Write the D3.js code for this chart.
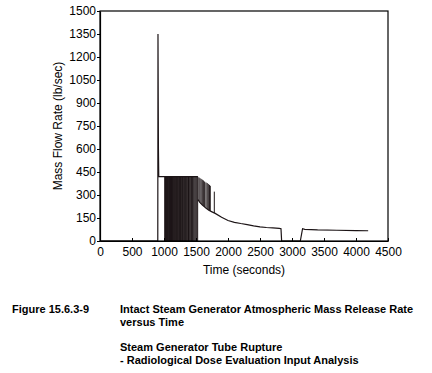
<!DOCTYPE html>
<html>
  <head>
    <meta charset="UTF-8" />
    <style>
      body {
        margin: 0;
        background: #fff;
      }
      svg {
        display: block;
        font-family: "Liberation Sans", Arial, sans-serif;
      }
    </style>
  </head>
  <body>
    <svg></svg>
    <script src="https://d3js.org/d3.v7.min.js"></script>
    <script>
      let width = 432,
        height = 373;

      // axis ticks
      const xTicks = [0, 500, 1000, 1500, 2000, 2500, 3000, 3500, 4000, 4500];
      const yTicks = [0, 150, 300, 450, 600, 750, 900, 1050, 1200, 1350, 1500];

      // main trace: startup spike and flat relief flow
      const startTime = [0, 903, 906, 913, 918, 1530];
      const startFlow = [0, 0, 1350, 600, 420, 420];

      // lower trace after the valve cycling, drop-out and recovery
      const tailTime = [1530, 1560, 1600, 1650, 1700, 1750, 1800, 1900, 2000, 2100, 2200, 2300, 2400, 2500, 2600, 2700, 2800, 2828, 2838, 3130, 3165, 3200, 3400, 3700, 4000, 4190];
      const tailFlow = [270, 252, 235, 216, 200, 190, 180, 155, 134, 122, 114, 107, 99, 92, 88, 85, 82, 80, 0, 0, 80, 76, 72, 70, 68, 67];

      // relief valve cycling: opening times and flow at the top
      const cycleTime = [1012, 1018, 1025, 1031, 1038, 1046, 1053, 1060, 1068, 1076, 1085, 1093, 1101, 1108, 1117, 1126, 1134, 1142, 1151, 1160, 1168, 1177, 1186, 1194, 1204, 1213, 1222, 1231, 1241, 1250, 1259, 1269, 1278, 1288, 1297, 1308, 1318, 1328, 1338, 1349, 1360, 1371, 1383, 1395, 1406, 1418, 1431, 1444, 1457, 1470, 1484, 1498, 1512, 1526, 1545, 1562, 1580, 1598, 1615, 1635, 1656, 1675, 1692, 1710, 1723, 1786];
      const cycleTop = [420, 420, 420, 420, 420, 420, 420, 420, 420, 420, 420, 420, 420, 420, 420, 420, 420, 420, 420, 420, 420, 420, 420, 420, 420, 420, 420, 420, 420, 420, 420, 420, 420, 420, 420, 420, 420, 420, 420, 420, 420, 420, 420, 420, 420, 420, 420, 420, 420, 420, 420, 420, 420, 420, 415, 410, 405, 400, 395, 388, 382, 378, 372, 366, 360, 322];

      const margin = { left: 100, right: 44, top: 11, bottom: 132 };

      let svg = d3
        .select("svg")
        .attr("width", width)
        .attr("height", height);

      svg.append("rect").attr("width", width).attr("height", height).attr("fill", "#fff");

      const x = d3
        .scaleLinear()
        .domain([0, 4500])
        .range([margin.left, width - margin.right]);
      const y = d3
        .scaleLinear()
        .domain([0, 1500])
        .range([height - margin.bottom, margin.top]);

      const lineColor = "#1c1416";

      // base flow under each valve cycle (zero before the lower trace begins)
      const baseOf = d3.scaleLinear().domain(tailTime.slice(0, 17)).range(tailFlow.slice(0, 17)).clamp(true);

      const plot = svg.append("g");

      // valve cycles
      plot
        .selectAll("line.cycle")
        .data(cycleTime)
        .enter()
        .append("line")
        .attr("class", "cycle")
        .attr("x1", (d) => x(d))
        .attr("x2", (d) => x(d))
        .attr("y1", (d) => y(d < 1530 ? 0 : baseOf(d)))
        .attr("y2", (d, i) => y(cycleTop[i]))
        .attr("stroke", lineColor)
        .attr("stroke-width", 1);

      const line = d3
        .line()
        .x((d) => x(d[0]))
        .y((d) => y(d[1]));

      plot
        .append("path")
        .attr("d", line(startTime.map((t, i) => [t, startFlow[i]])))
        .attr("fill", "none")
        .attr("stroke", lineColor)
        .attr("stroke-width", 1.2);

      plot
        .append("path")
        .attr("d", line(tailTime.map((t, i) => [t, tailFlow[i]])))
        .attr("fill", "none")
        .attr("stroke", lineColor)
        .attr("stroke-width", 1.2);

      // frame
      svg
        .append("rect")
        .attr("x", x(0))
        .attr("y", y(1500))
        .attr("width", x(4500) - x(0))
        .attr("height", y(0) - y(1500))
        .attr("fill", "none")
        .attr("stroke", "#000")
        .attr("stroke-width", 1.2);

      // x axis, ticks pointing inward
      const xAxis = svg
        .append("g")
        .attr("transform", "translate(0," + y(0) + ")")
        .call(
          d3.axisBottom(x).tickValues(xTicks).tickFormat(d3.format("d")).tickSizeInner(-3).tickSizeOuter(0).tickPadding(8)
        );

      // y axis, ticks pointing outward
      const yAxis = svg
        .append("g")
        .attr("transform", "translate(" + x(0) + ",0)")
        .call(d3.axisLeft(y).tickValues(yTicks).tickFormat(d3.format("d")).tickSize(3).tickSizeOuter(0).tickPadding(1));

      [xAxis, yAxis].forEach((g) => {
        g.select(".domain").attr("stroke", "#000").attr("stroke-width", 1.2);
        g.selectAll(".tick line").attr("stroke", "#000");
        g.selectAll("text")
          .attr("fill", "#000")
          .style("font-size", "12px")
          .style("font-family", "'Liberation Sans', Arial, sans-serif");
      });

      xAxis.selectAll("text").attr("dy", "0.6em");

      svg
        .append("text")
        .attr("x", (x(0) + x(4500)) / 2)
        .attr("y", 274)
        .attr("text-anchor", "middle")
        .style("font-size", "12px")
        .text("Time (seconds)");

      svg
        .append("text")
        .attr("transform", "translate(62," + (y(0) + y(1500)) / 2 + ") rotate(-90)")
        .attr("text-anchor", "middle")
        .style("font-size", "12px")
        .text("Mass Flow Rate (lb/sec)");

      // caption
      const caption = svg
        .append("g")
        .style("font-size", "11px")
        .style("font-weight", "bold");

      caption.append("text").attr("x", 12).attr("y", 313).text("Figure 15.6.3-9");
      caption.append("text").attr("x", 120).attr("y", 313).text("Intact Steam Generator Atmospheric Mass Release Rate");
      caption.append("text").attr("x", 120).attr("y", 326).text("versus Time");
      caption.append("text").attr("x", 120).attr("y", 351).text("Steam Generator Tube Rupture");
      caption.append("text").attr("x", 120).attr("y", 364).text("- Radiological Dose Evaluation Input Analysis");
    </script>
  </body>
</html>
